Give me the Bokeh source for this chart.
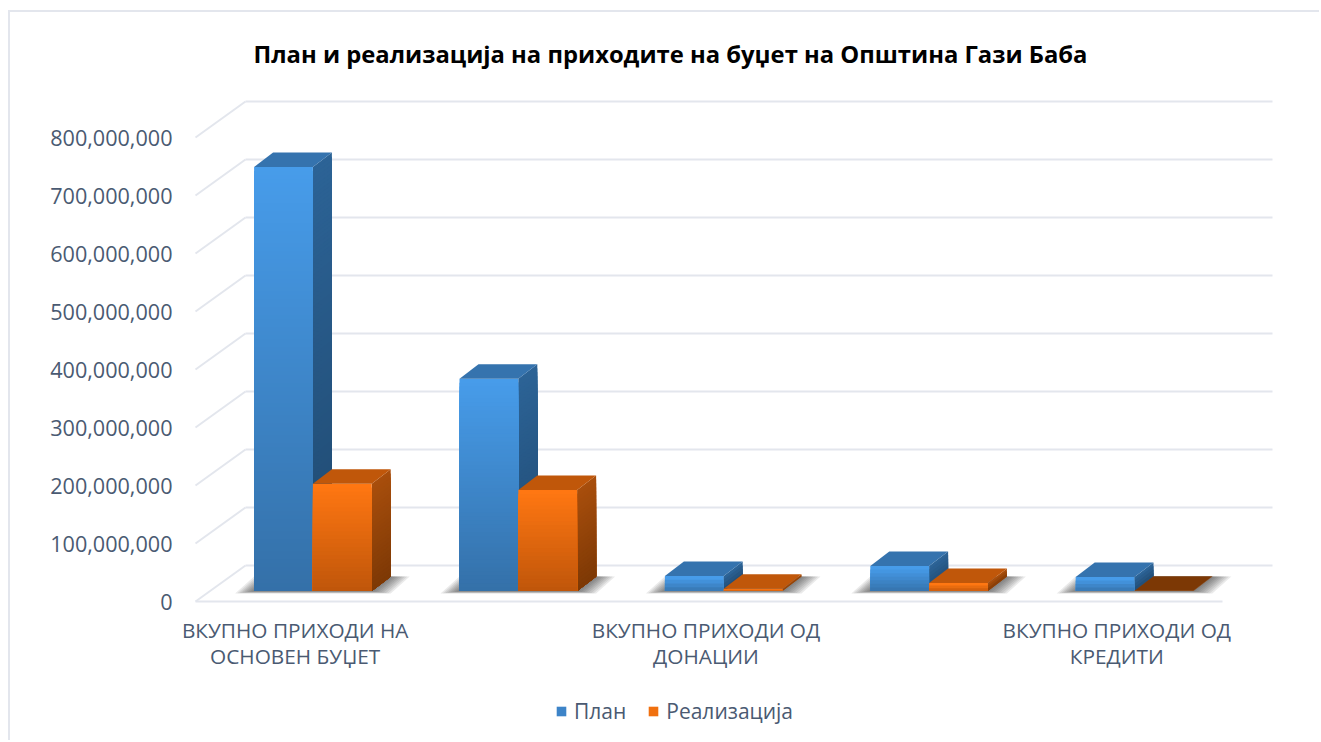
import numpy as np
from bokeh.embed import file_html
from bokeh.resources import INLINE
from bokeh.plotting import figure
from bokeh.models import Range1d, FixedTicker, NumeralTickFormatter, Legend, LegendItem

TITLE = "План и реализација на приходите на буџет на Општина Гази Баба"
categories = ["ВКУПНО ПРИХОДИ НА\nОСНОВЕН БУЏЕТ", "", "ВКУПНО ПРИХОДИ ОД\nДОНАЦИИ", "", "ВКУПНО ПРИХОДИ ОД\nКРЕДИТИ"]
plan = [731e6, 366e6, 26e6, 43e6, 24e6]
realizacija = [185e6, 174e6, 4e6, 14e6, 0.5e6]
y_ticks = [0, 100e6, 200e6, 300e6, 400e6, 500e6, 600e6, 700e6, 800e6]
series_names = ["План", "Реализација"]

FONT = "Open Sans"
TXT = "#4a5a72"
GRID = "#e3e6ed"

# Frame geometry in page pixels and the pixel scale of the chart's axes
OX, OY = 10, 12                  # where the canvas starts, inside the thin border
PAGE_W, PAGE_H = 1311, 730
F_L, F_R, F_T, F_B = 180, 1300, 92, OY + PAGE_H
AXIS_PX = 606                    # page row of the category axis, inside the frame
X0_PX, PITCH = 195.0, 205.4      # front-left corner of the floor, width of a category
Y0_PX, PX_PER = 601.0, 58e-8     # zero line, pixels per unit value


def dx(px):
    return px / PITCH


def dy(px):
    return px / PX_PER


x_range = Range1d(0.5 + dx(F_L - X0_PX), 0.5 + dx(F_R - X0_PX))
y_range = Range1d(dy(Y0_PX - F_B), dy(Y0_PX - F_T))

p = figure(width=PAGE_W, height=PAGE_H, x_range=x_range, y_range=y_range,
           output_backend="svg", toolbar_location=None,
           min_border_left=F_L - OX, min_border_right=PAGE_W + OX - F_R,
           min_border_top=F_T - OY, min_border_bottom=0,
           background_fill_color="white", border_fill_color="white",
           styles={"border-left": f"2px solid {GRID}", "border-top": f"2px solid {GRID}",
                   "margin-top": "10px", "margin-left": "8px"})
p.outline_line_color = None
p.xgrid.visible = False
p.ygrid.visible = False

# Title
p.title.text = TITLE
p.title.text_font = FONT
p.title.text_font_size = "23.8px"
p.title.text_font_style = "bold"
p.title.text_color = "#000000"
p.title.align = "left"
p.title.offset = 73
p.title.standoff = 45

# Axes
ya = p.yaxis[0]
ya.ticker = FixedTicker(ticks=y_ticks)
ya.formatter = NumeralTickFormatter(format="0,0")
ya.axis_line_color = None
ya.major_tick_line_color = None
ya.minor_tick_line_color = None
ya.major_label_text_font = FONT
ya.major_label_text_font_size = "21.6px"
ya.major_label_text_color = TXT
ya.major_label_standoff = 2

LABEL_SHIFT = dx(-3)             # the labels sit a little left of the category centres
xa = p.xaxis[0]
xa.fixed_location = dy(Y0_PX - AXIS_PX)
xa.ticker = FixedTicker(ticks=[i + 1 + LABEL_SHIFT for i, c in enumerate(categories) if c])
xa.major_label_overrides = {i + 1 + LABEL_SHIFT: c for i, c in enumerate(categories) if c}
xa.axis_line_color = None
xa.major_tick_line_color = None
xa.minor_tick_line_color = None
xa.major_label_text_font = FONT
xa.major_label_text_font_size = "20.8px"
xa.major_label_text_color = TXT
xa.major_label_text_align = "center"
xa.major_label_text_line_height = 0.96
xa.major_label_standoff = 3

# Chart walls and floor
WALL_X, WALL_Y = dx(50), dy(36)
x_l, x_r = 0.5, 0.5 + len(categories)
yt = np.array(y_ticks)
p.segment(x0=[x_l] * len(yt), y0=yt, x1=[x_l + WALL_X] * len(yt), y1=yt + WALL_Y,
          line_color=GRID, line_width=2)
p.segment(x0=[x_l + WALL_X] * len(yt), y0=yt + WALL_Y, x1=[x_r + WALL_X] * len(yt), y1=yt + WALL_Y,
          line_color=GRID, line_width=2)
p.segment(x0=[x_l], y0=[0], x1=[x_r], y1=[0], line_color=GRID, line_width=2)

# Bars sit on the floor at this depth, and have this depth themselves
BAR_W = dx(58.8)
BASE_Y = dy(10.5)
DEPTH_X, DEPTH_Y = dx(19), dy(14.5)
GROUP_LEFT = [dx(253.6 - X0_PX) + 0.5 + dx(205.4) * i for i in range(len(categories))]

# Soft floor shadow under each group
N_SH = 8
for k in range(N_SH, 0, -1):
    e = dx(19) * k / N_SH
    g = dy(2.5) * k / N_SH
    xs, ys = [], []
    for gl in GROUP_LEFT:
        a, b = gl - e, gl + 2 * BAR_W + e
        xs.append([a, b, b + DEPTH_X, a + DEPTH_X])
        ys.append([BASE_Y - g, BASE_Y - g, BASE_Y + DEPTH_Y, BASE_Y + DEPTH_Y])
    p.patches(xs, ys, fill_color="#303030", fill_alpha=0.10, line_color=None)


def mix(c0, c1, t):
    return "#%02x%02x%02x" % tuple(int(round(a + (b - a) * t)) for a, b in zip(c0, c1))


def draw_bar(left, val, front, side, top):
    """Front and side faces are painted from the top colour downwards."""
    bottom = BASE_Y
    height = val
    n = max(2, int(height * PX_PER / 4) + 1)
    for t in np.linspace(0, 1, n, endpoint=False):
        yy = bottom + height * (1 - t)
        col = mix(side[0], side[1], t)
        p.patch([left + BAR_W, left + BAR_W + DEPTH_X, left + BAR_W + DEPTH_X, left + BAR_W],
                [yy, yy + DEPTH_Y, bottom + DEPTH_Y, bottom], fill_color=col, line_color=None)
    for t in np.linspace(0, 1, n, endpoint=False):
        yy = bottom + height * (1 - t)
        p.quad(left=left, right=left + BAR_W, top=yy, bottom=bottom,
               fill_color=mix(front[0], front[1], t), line_color=None)
    # A bar of next to nothing shows only its dark underside
    top_col = mix(side[1], side[1], 0) if val < 1e6 else top
    p.patch([left, left + BAR_W, left + BAR_W + DEPTH_X, left + DEPTH_X],
            [bottom + val, bottom + val, bottom + val + DEPTH_Y, bottom + val + DEPTH_Y],
            fill_color=top_col, line_color=None)


BLUE = dict(front=((0x47, 0x9c, 0xea), (0x34, 0x70, 0xa8)), side=((0x2c, 0x63, 0x96), (0x1f, 0x49, 0x70)), top="#3573ae")
ORANGE = dict(front=((0xff, 0x77, 0x12), (0xbe, 0x55, 0x0a)), side=((0xa8, 0x4e, 0x0c), (0x7c, 0x38, 0x05)), top="#c0570a")

for gl, v0, v1 in zip(GROUP_LEFT, plan, realizacija):
    draw_bar(gl, v0, **BLUE)
    draw_bar(gl + BAR_W, v1, **ORANGE)

# Legend, in the part of the frame below the category labels
r0 = p.quad(left=[x_l], right=[x_l], top=[0], bottom=[0], fill_color="#3d84c8", line_color=None)
r1 = p.quad(left=[x_l], right=[x_l], top=[0], bottom=[0], fill_color="#f0700f", line_color=None)
legend = Legend(items=[LegendItem(label=series_names[0], renderers=[r0]),
                       LegendItem(label=series_names[1], renderers=[r1])],
                orientation="horizontal", location=(555 - F_L, 17),
                label_text_font=FONT, label_text_font_size="21px", label_text_color=TXT,
                glyph_width=12, glyph_height=12, spacing=21, label_standoff=7,
                border_line_color=None, background_fill_alpha=0, margin=0, padding=0)
p.add_layout(legend)

open("out.html", "w").write(file_html(p, INLINE))
